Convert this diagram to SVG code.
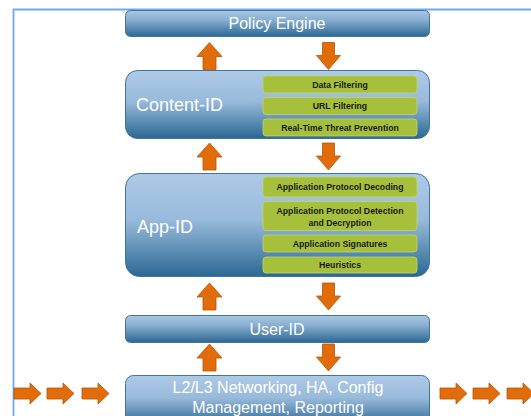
<svg xmlns="http://www.w3.org/2000/svg" width="531" height="416" viewBox="0 0 531 416">
<defs>
<linearGradient id="gb" x1="0" y1="0" x2="0" y2="1">
<stop offset="0" stop-color="#aecae7"/>
<stop offset="0.45" stop-color="#98badb"/>
<stop offset="1" stop-color="#2b6893"/>
</linearGradient>
<linearGradient id="gs" x1="0" y1="0" x2="0" y2="1">
<stop offset="0" stop-color="#a9c6e4"/>
<stop offset="0.35" stop-color="#8bb0d2"/>
<stop offset="1" stop-color="#2c6893"/>
</linearGradient>
<path id="up" d="M0,0 L12.5,14 L6.5,14 L6.5,27 L-6.5,27 L-6.5,14 L-12.5,14 Z"/>
<path id="dn" d="M-6,0 L6,0 L6,13 L12,13 L0,27 L-12,13 L-6,13 Z"/>
<path id="rt" d="M0,5 L16,5 L16,0 L27,10.5 L16,21 L16,16 L0,16 Z"/>
</defs>
<style>
.box{stroke:#41739b;stroke-width:1}
.arr{fill:#e36c0a;stroke:#b25509;stroke-width:0.8}
.g{fill:#a6c03b;stroke:#c3d66f;stroke-width:0.8}
.t{fill:#ffffff;font-family:"Liberation Sans",Arial,sans-serif}
.gt{fill:#1a1a1a;font-family:"Liberation Sans",Arial,sans-serif;font-weight:bold;font-size:8.7px;text-anchor:middle}
</style>
<rect width="531" height="416" fill="#ffffff"/>
<path d="M13.5,416 L13.5,9.5 L531,9.5" fill="none" stroke="#6ea7f4" stroke-width="1.8"/>

<g id="policy-engine">
<rect class="box" x="125.5" y="10.5" width="304" height="26" rx="5" fill="url(#gs)"/>
<text class="t" x="277" y="29" font-size="16" text-anchor="middle">Policy Engine</text>
</g>

<g id="content-id">
<rect class="box" x="125.5" y="70.5" width="304" height="68" rx="12" fill="url(#gb)"/>
<text class="t" x="136" y="111" font-size="18">Content-ID</text>
<rect class="g" x="263" y="76" width="154" height="17" rx="3"/>
<text class="gt" x="340" y="87.8">Data Filtering</text>
<rect class="g" x="263" y="97.5" width="154" height="17" rx="3"/>
<text class="gt" x="340" y="109.3">URL Filtering</text>
<rect class="g" x="263" y="119" width="154" height="17" rx="3"/>
<text class="gt" x="340" y="130.8">Real-Time Threat Prevention</text>
</g>

<g id="app-id">
<rect class="box" x="125.5" y="173.5" width="304" height="103" rx="14" fill="url(#gb)"/>
<text class="t" x="137" y="233" font-size="18">App-ID</text>
<rect class="g" x="263" y="177" width="154" height="20" rx="3"/>
<text class="gt" x="340" y="190.3">Application Protocol Decoding</text>
<rect class="g" x="263" y="201.5" width="154" height="29" rx="3"/>
<text class="gt" x="340" y="213.5">Application Protocol Detection</text>
<text class="gt" x="340" y="225.5">and Decryption</text>
<rect class="g" x="263" y="235" width="154" height="17" rx="3"/>
<text class="gt" x="340" y="246.8">Application Signatures</text>
<rect class="g" x="263" y="257" width="154" height="16" rx="3"/>
<text class="gt" x="340" y="268.3">Heuristics</text>
</g>

<g id="user-id">
<rect class="box" x="125.5" y="315.5" width="304" height="27" rx="5" fill="url(#gs)"/>
<text class="t" x="277" y="334.5" font-size="16" text-anchor="middle">User-ID</text>
</g>

<g id="networking">
<rect class="box" x="125.5" y="375.5" width="304" height="50" rx="8" fill="url(#gb)"/>
<text class="t" x="278" y="393" font-size="16" text-anchor="middle">L2/L3 Networking, HA, Config</text>
<text class="t" x="278" y="413" font-size="16" text-anchor="middle">Management, Reporting</text>
</g>

<g id="connectors">
<use href="#up" class="arr" x="209.5" y="42.5"/>
<use href="#dn" class="arr" x="328.5" y="42.5"/>
<use href="#up" class="arr" x="209.5" y="143"/>
<use href="#dn" class="arr" x="328.5" y="143"/>
<use href="#up" class="arr" x="209.5" y="283"/>
<use href="#dn" class="arr" x="328.5" y="283"/>
<use href="#up" class="arr" x="209.5" y="344"/>
<use href="#dn" class="arr" x="328.5" y="344"/>
<use href="#rt" class="arr" x="14" y="383"/>
<use href="#rt" class="arr" x="47" y="383"/>
<use href="#rt" class="arr" x="82" y="383"/>
<use href="#rt" class="arr" x="440" y="383"/>
<use href="#rt" class="arr" x="473" y="383"/>
<use href="#rt" class="arr" x="507" y="383"/>
</g>
</svg>
